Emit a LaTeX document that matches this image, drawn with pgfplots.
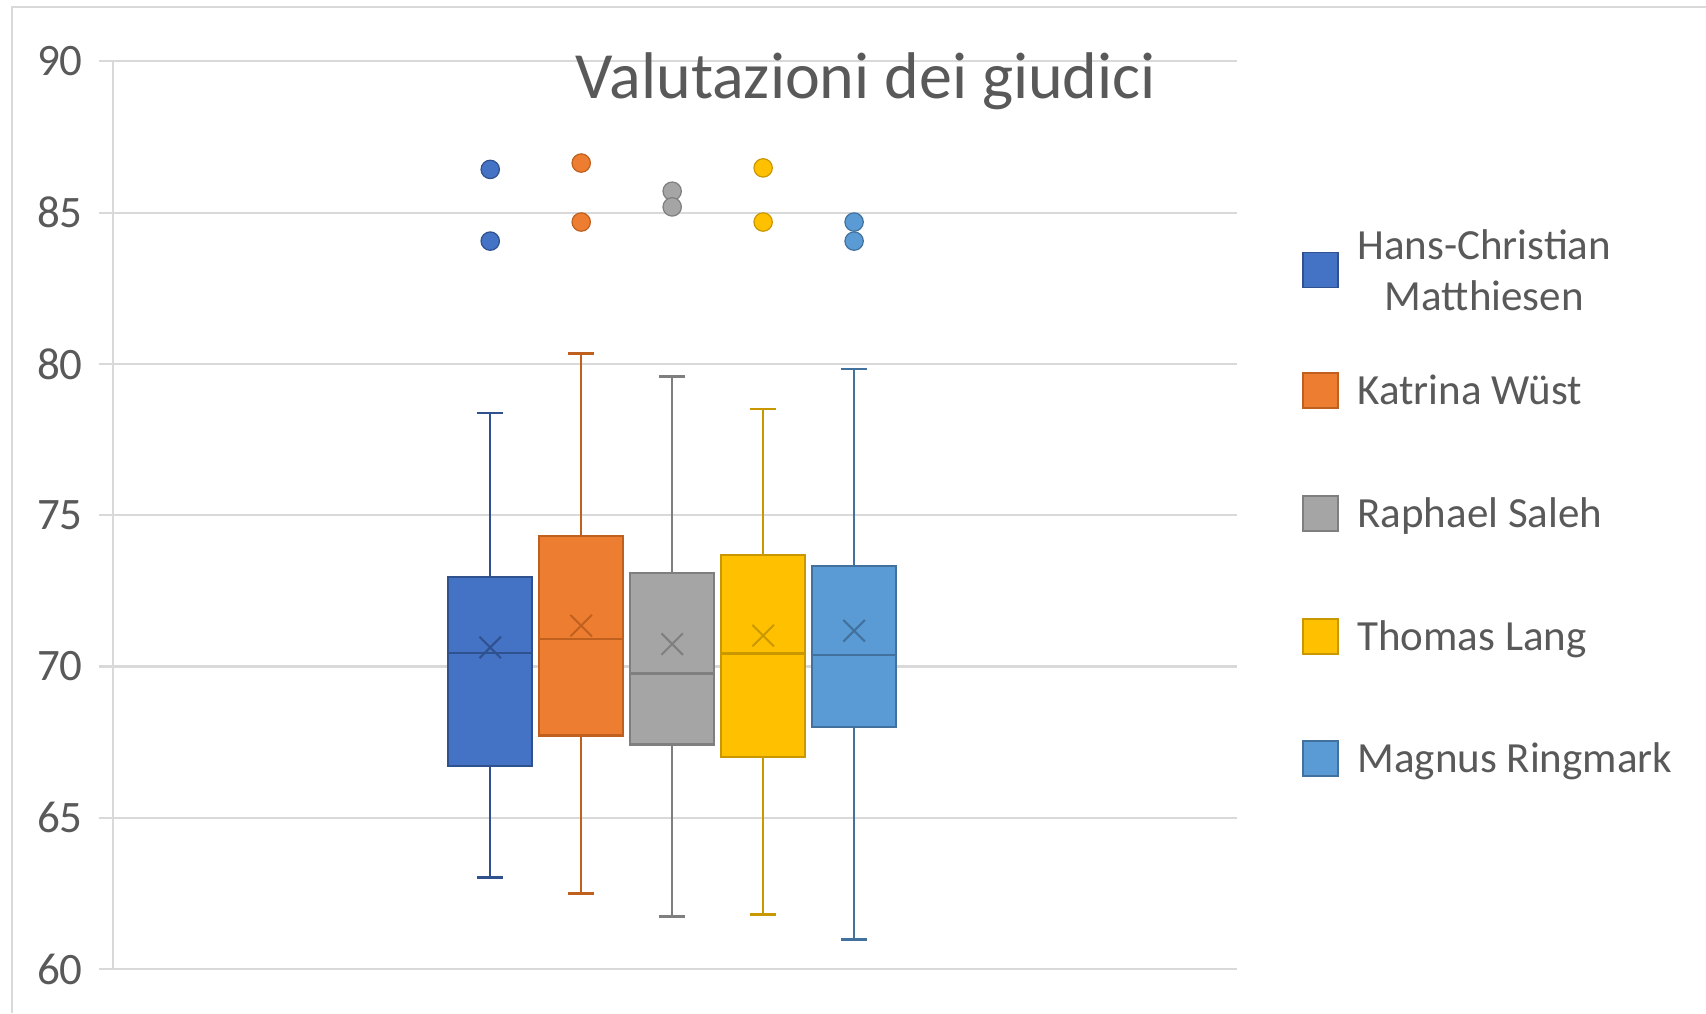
\documentclass[border=0pt]{standalone}
\usepackage{pgfplots}
\pgfplotsset{compat=1.18}
\usepackage{fontspec}
\setmainfont{Carlito}

\definecolor{txtgray}{HTML}{595959}
\definecolor{gridgray}{HTML}{D9D9D9}
\definecolor{cA}{HTML}{4472C4}\definecolor{cAd}{HTML}{2F528F}
\definecolor{cB}{HTML}{ED7D31}\definecolor{cBd}{HTML}{C0601F}
\definecolor{cC}{HTML}{A5A5A5}\definecolor{cCd}{HTML}{7F7F7F}
\definecolor{cD}{HTML}{FFC000}\definecolor{cDd}{HTML}{C99700}
\definecolor{cE}{HTML}{5B9BD5}\definecolor{cEd}{HTML}{41719C}

% pieces of a box-and-whisker glyph
\pgfplotsset{
  box/.style 2 args={fill=#1, draw=#2, line width=1.1pt, mark=none},
  whisk/.style={draw=#1, line width=1.2pt, mark=none},
  med/.style={draw=#1, line width=1.3pt, mark=none},
  mean/.style={only marks, mark=x, mark size=7.6pt,
    mark options={draw=#1, line width=1pt}},
  outl/.style 2 args={only marks, mark=*, mark size=4.6pt,
    mark options={fill=#1, draw=#2, line width=0.6pt}},
}

\begin{document}
\begin{tikzpicture}
\useasboundingbox (0,0) rectangle (853pt,506.5pt);
% chart frame (left and top edges)
\draw[gridgray, line width=1pt] (5.85pt,0) -- (5.85pt,502.8pt) -- (853pt,502.8pt);

\begin{axis}[
  at={(56.35pt,22pt)}, anchor=south west,
  scale only axis, width=562.2pt, height=453.8pt,
  xmin=-6.15, xmax=6.21, ymin=60, ymax=90,
  ytick={60,65,...,90}, xtick=\empty,
  axis lines=left, axis line style={-, draw=gridgray, line width=1.1pt},
  ymajorgrids, grid style={draw=gridgray, line width=1.1pt},
  tick align=outside, major tick length=7pt,
  tick style={draw=gridgray, line width=1.1pt},
  /pgf/number format/assume math mode=true,
  yticklabel style={font=\fontsize{22.5}{26}\selectfont, text=txtgray, xshift=-4.5pt},
  clip=false,
]
% --- Hans-Christian Matthiesen (position -2)
\addplot[whisk=cAd] coordinates {(-2,72.95) (-2,78.37)};
\addplot[whisk=cAd] coordinates {(-2.14,78.37) (-1.86,78.37)};
\addplot[whisk=cAd] coordinates {(-2,66.70) (-2,63.02)};
\addplot[whisk=cAd] coordinates {(-2.14,63.02) (-1.86,63.02)};
\addplot[box={cA}{cAd}] coordinates {(-2.46,66.70) (-1.54,66.70) (-1.54,72.95) (-2.46,72.95)} --cycle;
\addplot[med=cAd] coordinates {(-2.46,70.44) (-1.54,70.44)};
\addplot[mean=cAd] coordinates {(-2,70.63)};
\addplot[outl={cA}{cAd}] coordinates {(-2,86.43) (-2,84.06)};

% --- Katrina Wüst (position -1)
\addplot[whisk=cBd] coordinates {(-1,74.31) (-1,80.34)};
\addplot[whisk=cBd] coordinates {(-1.14,80.34) (-0.86,80.34)};
\addplot[whisk=cBd] coordinates {(-1,67.72) (-1,62.49)};
\addplot[whisk=cBd] coordinates {(-1.14,62.49) (-0.86,62.49)};
\addplot[box={cB}{cBd}] coordinates {(-1.46,67.72) (-0.54,67.72) (-0.54,74.31) (-1.46,74.31)} --cycle;
\addplot[med=cBd] coordinates {(-1.46,70.91) (-0.54,70.91)};
\addplot[mean=cBd] coordinates {(-1,71.35)};
\addplot[outl={cB}{cBd}] coordinates {(-1,86.64) (-1,84.69)};

% --- Raphael Saleh (position 0)
\addplot[whisk=cCd] coordinates {(0,73.09) (0,79.59)};
\addplot[whisk=cCd] coordinates {(-0.14,79.59) (0.14,79.59)};
\addplot[whisk=cCd] coordinates {(0,67.42) (0,61.73)};
\addplot[whisk=cCd] coordinates {(-0.14,61.73) (0.14,61.73)};
\addplot[box={cC}{cCd}] coordinates {(-0.46,67.42) (0.46,67.42) (0.46,73.09) (-0.46,73.09)} --cycle;
\addplot[med=cCd] coordinates {(-0.46,69.77) (0.46,69.77)};
\addplot[mean=cCd] coordinates {(0,70.74)};
\addplot[outl={cC}{cCd}] coordinates {(0,85.71) (0,85.19)};

% --- Thomas Lang (position 1)
\addplot[whisk=cDd] coordinates {(1,73.69) (1,78.52)};
\addplot[whisk=cDd] coordinates {(0.86,78.52) (1.14,78.52)};
\addplot[whisk=cDd] coordinates {(1,67.01) (1,61.80)};
\addplot[whisk=cDd] coordinates {(0.86,61.80) (1.14,61.80)};
\addplot[box={cD}{cDd}] coordinates {(0.54,67.01) (1.46,67.01) (1.46,73.69) (0.54,73.69)} --cycle;
\addplot[med=cDd] coordinates {(0.54,70.43) (1.46,70.43)};
\addplot[mean=cDd] coordinates {(1,71.02)};
\addplot[outl={cD}{cDd}] coordinates {(1,86.48) (1,84.69)};

% --- Magnus Ringmark (position 2)
\addplot[whisk=cEd] coordinates {(2,73.32) (2,79.84)};
\addplot[whisk=cEd] coordinates {(1.86,79.84) (2.14,79.84)};
\addplot[whisk=cEd] coordinates {(2,68.01) (2,60.97)};
\addplot[whisk=cEd] coordinates {(1.86,60.97) (2.14,60.97)};
\addplot[box={cE}{cEd}] coordinates {(1.54,68.01) (2.46,68.01) (2.46,73.32) (1.54,73.32)} --cycle;
\addplot[med=cEd] coordinates {(1.54,70.38) (2.46,70.38)};
\addplot[mean=cEd] coordinates {(2,71.18)};
\addplot[outl={cE}{cEd}] coordinates {(2,84.69) (2,84.06)};
\end{axis}

% title
\node[anchor=base, inner sep=0pt, text=txtgray,
  font=\fontsize{33}{40}\selectfont] at (433pt,457pt) {Valutazioni dei giudici};

% legend
\tikzset{legtext/.style={inner sep=0pt, text=txtgray,
  font=\fontsize{21.5}{25.5}\selectfont}}
\filldraw[fill=cA, draw=cAd, line width=0.8pt] (651.5pt,362.75pt) rectangle (669pt,380.25pt);
\node[legtext, anchor=west, align=center] at (678.5pt,371.5pt) {Hans-Christian\\Matthiesen};
\filldraw[fill=cB, draw=cBd, line width=0.8pt] (651.5pt,302.45pt) rectangle (669pt,319.95pt);
\node[legtext, anchor=base west] at (678.5pt,304.3pt) {Katrina Wüst};
\filldraw[fill=cC, draw=cCd, line width=0.8pt] (651.5pt,241pt) rectangle (669pt,258.5pt);
\node[legtext, anchor=base west] at (678.5pt,242.85pt) {Raphael Saleh};
\filldraw[fill=cD, draw=cDd, line width=0.8pt] (651.5pt,179.5pt) rectangle (669pt,197pt);
\node[legtext, anchor=base west] at (678.5pt,181.35pt) {Thomas Lang};
\filldraw[fill=cE, draw=cEd, line width=0.8pt] (651.5pt,118.6pt) rectangle (669pt,136.1pt);
\node[legtext, anchor=base west] at (678.5pt,120.45pt) {Magnus Ringmark};
\end{tikzpicture}
\end{document}
